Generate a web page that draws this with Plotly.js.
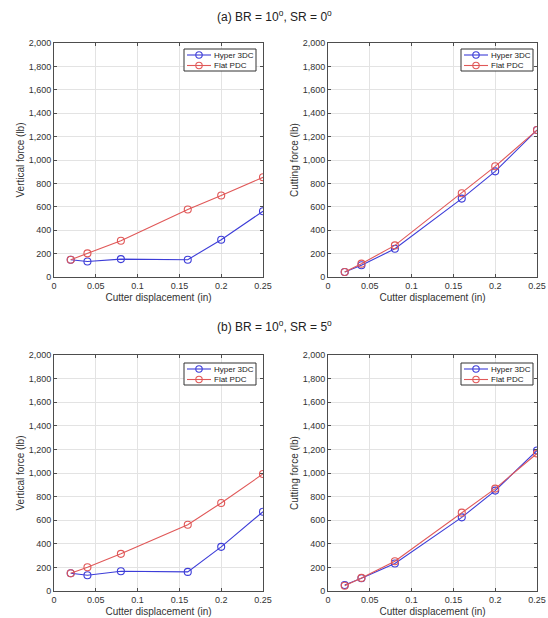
<!DOCTYPE html>
<html>
<head>
<meta charset="utf-8">
<script src="https://cdn.plot.ly/plotly-3.0.1.min.js"></script>
<style>html,body{margin:0;padding:0;background:#fff;}#chart{width:548px;height:618px;}</style>
</head>
<body>
<div id="chart"></div>
<script>
const displacement = [0.02, 0.04, 0.08, 0.16, 0.20, 0.25];
const seriesNames = ["Hyper 3DC", "Flat PDC"];
// (a) BR = 10, SR = 0
const aVerticalHyper = [148, 133, 153, 148, 318, 562];
const aVerticalFlat  = [148, 202, 310, 577, 696, 852];
const aCuttingHyper  = [43, 100, 241, 670, 903, 1256];
const aCuttingFlat   = [43, 114, 270, 716, 946, 1256];
// (b) BR = 10, SR = 5
const bVerticalHyper = [150, 133, 167, 162, 374, 672];
const bVerticalFlat  = [150, 201, 315, 562, 746, 992];
const bCuttingHyper  = [51, 108, 233, 624, 851, 1191];
const bCuttingFlat   = [45, 111, 252, 664, 868, 1166];
const xTickVals = [0, 0.05, 0.1, 0.15, 0.2, 0.25];
const xTickText = ["0", "0.05", "0.1", "0.15", "0.2", "0.25"];
const yTickVals = [0, 200, 400, 600, 800, 1000, 1200, 1400, 1600, 1800, 2000];
const panelTitles = ["(a) BR = 10<sup>o</sup>, SR = 0<sup>o</sup>", "(b) BR = 10<sup>o</sup>, SR = 5<sup>o</sup>"];
const xTitle = "Cutter displacement (in)";
const yTitles = ["Vertical force (lb)", "Cutting force (lb)"];

const blue = "#3d3dd8";
const red = "#e05858";
const colors = [blue, red];
const W = 548, H = 618;
const FONT = "Liberation Sans, Arial, sans-serif";

const panels = [
  {h: aVerticalHyper, f: aVerticalFlat, ax: ""},
  {h: aCuttingHyper, f: aCuttingFlat, ax: "2"},
  {h: bVerticalHyper, f: bVerticalFlat, ax: "3"},
  {h: bCuttingHyper, f: bCuttingFlat, ax: "4"}
];
const traces = [];
panels.forEach(p => {
  [[p.h, blue, seriesNames[0]], [p.f, red, seriesNames[1]]].forEach(([ys, c, n]) => {
    traces.push({
      x: displacement, y: ys, name: n, type: "scatter", mode: "lines+markers",
      line: {color: c, width: 1.1},
      marker: {symbol: "circle-open", size: 7, color: c, line: {width: 1.1, color: c}},
      xaxis: "x" + p.ax, yaxis: "y" + p.ax, showlegend: false
    });
  });
});

const px = (x) => x / W;
const py = (y) => 1 - y / H;
const colX = [[px(54), px(263)], [px(328), px(537)]];
const rowY = [[py(277), py(43)], [py(591), py(355)]];

function xAxis(dom, anchor) {
  return {domain: dom, anchor: anchor, range: [0, 0.25], tickvals: xTickVals, ticktext: xTickText,
    showgrid: true, gridcolor: "#e3e3e3", gridwidth: 1, zeroline: false,
    showline: true, mirror: "ticks", linecolor: "#4d4d4d", linewidth: 1,
    ticks: "inside", ticklen: 3, tickcolor: "#4d4d4d",
    tickfont: {size: 9, color: "#333", family: FONT},
    title: {text: xTitle, font: {size: 10, color: "#333", family: FONT}, standoff: 4}};
}
function yAxis(dom, anchor, t) {
  return {domain: dom, anchor: anchor, range: [0, 2000], tickvals: yTickVals, tickformat: ",",
    showgrid: true, gridcolor: "#e3e3e3", gridwidth: 1, zeroline: false,
    showline: true, mirror: "ticks", linecolor: "#4d4d4d", linewidth: 1,
    ticks: "inside", ticklen: 3, tickcolor: "#4d4d4d",
    tickfont: {size: 9, color: "#333", family: FONT},
    title: {text: t, font: {size: 10, color: "#333", family: FONT}, standoff: 2}};
}

// Hand-built compact legends (MATLAB style)
const shapes = [];
const annotations = [];
const legendBoxes = [[184, 49], [461, 49], [184, 363], [461, 363]];
const LW = 72, LH = 22;
legendBoxes.forEach(([lx, ly]) => {
  shapes.push({type: "rect", xref: "paper", yref: "paper",
    x0: px(lx), x1: px(lx + LW), y0: py(ly + LH), y1: py(ly),
    line: {color: "#333", width: 1}, fillcolor: "#fff", layer: "above"});
  seriesNames.forEach((n, i) => {
    const cy = ly + 6 + i * 10.5;
    shapes.push({type: "line", xref: "paper", yref: "paper",
      x0: px(lx + 3), x1: px(lx + 27), y0: py(cy), y1: py(cy),
      line: {color: colors[i], width: 1.1}, layer: "above"});
    shapes.push({type: "circle", xref: "paper", yref: "paper",
      x0: px(lx + 15 - 3.2), x1: px(lx + 15 + 3.2), y0: py(cy + 3.2), y1: py(cy - 3.2),
      line: {color: colors[i], width: 1.1}, fillcolor: "rgba(0,0,0,0)", layer: "above"});
    annotations.push({text: n, xref: "paper", yref: "paper", x: px(lx + 28), y: py(cy),
      xanchor: "left", yanchor: "middle", showarrow: false,
      font: {size: 8, color: "#222", family: FONT}});
  });
});
annotations.push(
  {text: panelTitles[0], x: 0.5, y: py(16), xref: "paper", yref: "paper", showarrow: false,
    font: {size: 12, color: "#222", family: FONT}, yanchor: "middle"},
  {text: panelTitles[1], x: 0.5, y: py(326), xref: "paper", yref: "paper", showarrow: false,
    font: {size: 12, color: "#222", family: FONT}, yanchor: "middle"}
);

const layout = {
  width: W, height: H, margin: {l: 0, r: 0, t: 0, b: 0},
  paper_bgcolor: "#fff", plot_bgcolor: "#fff",
  font: {family: FONT},
  xaxis: xAxis(colX[0], "y"), yaxis: yAxis(rowY[0], "x", yTitles[0]),
  xaxis2: xAxis(colX[1], "y2"), yaxis2: yAxis(rowY[0], "x2", yTitles[1]),
  xaxis3: xAxis(colX[0], "y3"), yaxis3: yAxis(rowY[1], "x3", yTitles[0]),
  xaxis4: xAxis(colX[1], "y4"), yaxis4: yAxis(rowY[1], "x4", yTitles[1]),
  shapes: shapes,
  annotations: annotations,
  showlegend: false
};
Plotly.newPlot("chart", traces, layout, {displayModeBar: false, staticPlot: true});
</script>
</body>
</html>
